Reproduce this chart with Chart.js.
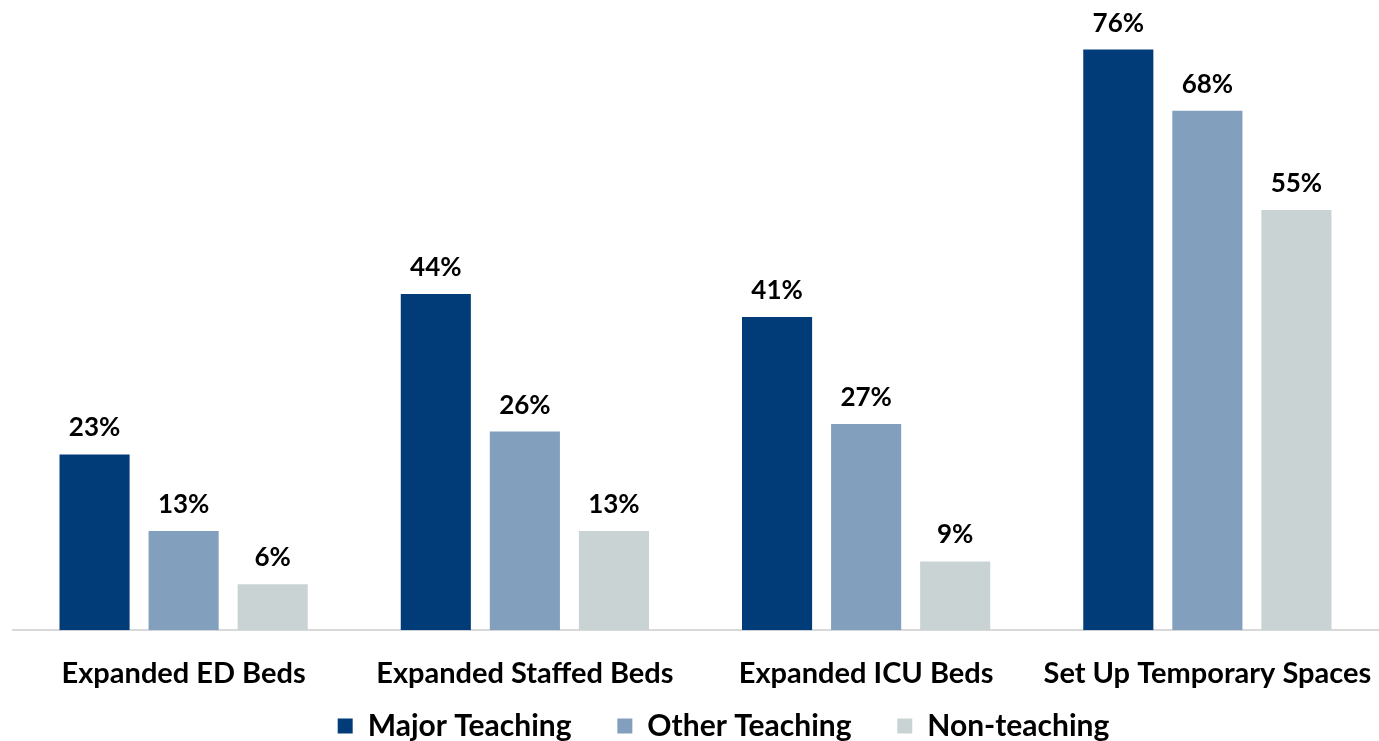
<!DOCTYPE html>
<html>
<head>
    <title>Capacity Expansion</title>
    <script src="https://cdn.jsdelivr.net/npm/chart.js"></script>
    <style>
        html, body { margin: 0; padding: 0; background: #fff; }
        #wrap { width: 1379px; height: 741px; }
    </style>
</head>
<body>
    <div id="wrap"><canvas id="capChart"></canvas></div>
    <script>
        // values
        const categories = ['Expanded ED Beds', 'Expanded Staffed Beds', 'Expanded ICU Beds', 'Set Up Temporary Spaces'];
        const majorTeaching = [23, 44, 41, 76];
        const otherTeaching = [13, 26, 27, 68];
        const nonTeaching = [6, 13, 9, 55];
        const seriesNames = ['Major Teaching', 'Other Teaching', 'Non-teaching'];

        const FONT = "Lato, 'Open Sans', sans-serif";

        // draws the percent above each bar (no datalabels plugin available offline)
        const barLabels = {
            id: 'barLabels',
            afterDatasetsDraw(chart) {
                const ctx = chart.ctx;
                ctx.save();
                ctx.font = 'bold 26px ' + FONT;
                ctx.fillStyle = '#000';
                ctx.textAlign = 'center';
                ctx.textBaseline = 'alphabetic';
                chart.data.datasets.forEach((ds, i) => {
                    chart.getDatasetMeta(i).data.forEach((bar, j) => {
                        ctx.fillText(ds.data[j] + '%', bar.x, bar.y - 18);
                    });
                });
                ctx.restore();
            }
        };

        new Chart(document.getElementById('capChart'), {
            type: 'bar',
            data: {
                labels: categories,
                datasets: [
                    { label: seriesNames[0], data: majorTeaching, backgroundColor: '#023C78' },
                    { label: seriesNames[1], data: otherTeaching, backgroundColor: '#829FBD' },
                    { label: seriesNames[2], data: nonTeaching, backgroundColor: '#C9D3D4' }
                ]
            },
            options: {
                responsive: true,
                maintainAspectRatio: false,
                animation: false,
                categoryPercentage: 0.783,
                barPercentage: 0.787,
                // negative right pad pushes the legend's centre right; x afterFit sets the plot's right edge
                layout: { padding: { left: 13, right: -55, top: 19, bottom: -10 } },
                plugins: {
                    tooltip: { enabled: false },
                    legend: {
                        position: 'bottom',
                        labels: {
                            boxWidth: 15,
                            boxHeight: 15,
                            padding: 2,
                            color: '#000',
                            font: { family: FONT, size: 30, weight: 'bold' },
                            // trailing spaces stand in for the wide gap between items
                            generateLabels(chart) {
                                const items = Chart.defaults.plugins.legend.labels.generateLabels(chart);
                                items.forEach((it, i) => {
                                    if (i < items.length - 1) it.text = it.text + '      ';
                                });
                                return items;
                            }
                        }
                    }
                },
                scales: {
                    x: {
                        grid: { display: false },
                        border: { display: true, color: '#D9D9D9', width: 2 },
                        afterFit(scale) {
                            scale.paddingLeft = 0;
                            scale.paddingRight = 1;
                        },
                        ticks: {
                            color: '#000',
                            padding: 18,
                            font: { family: FONT, size: 29, weight: 'bold' }
                        }
                    },
                    y: {
                        display: false,
                        min: 0,
                        max: 80
                    }
                }
            },
            plugins: [barLabels]
        });
    </script>
</body>
</html>
